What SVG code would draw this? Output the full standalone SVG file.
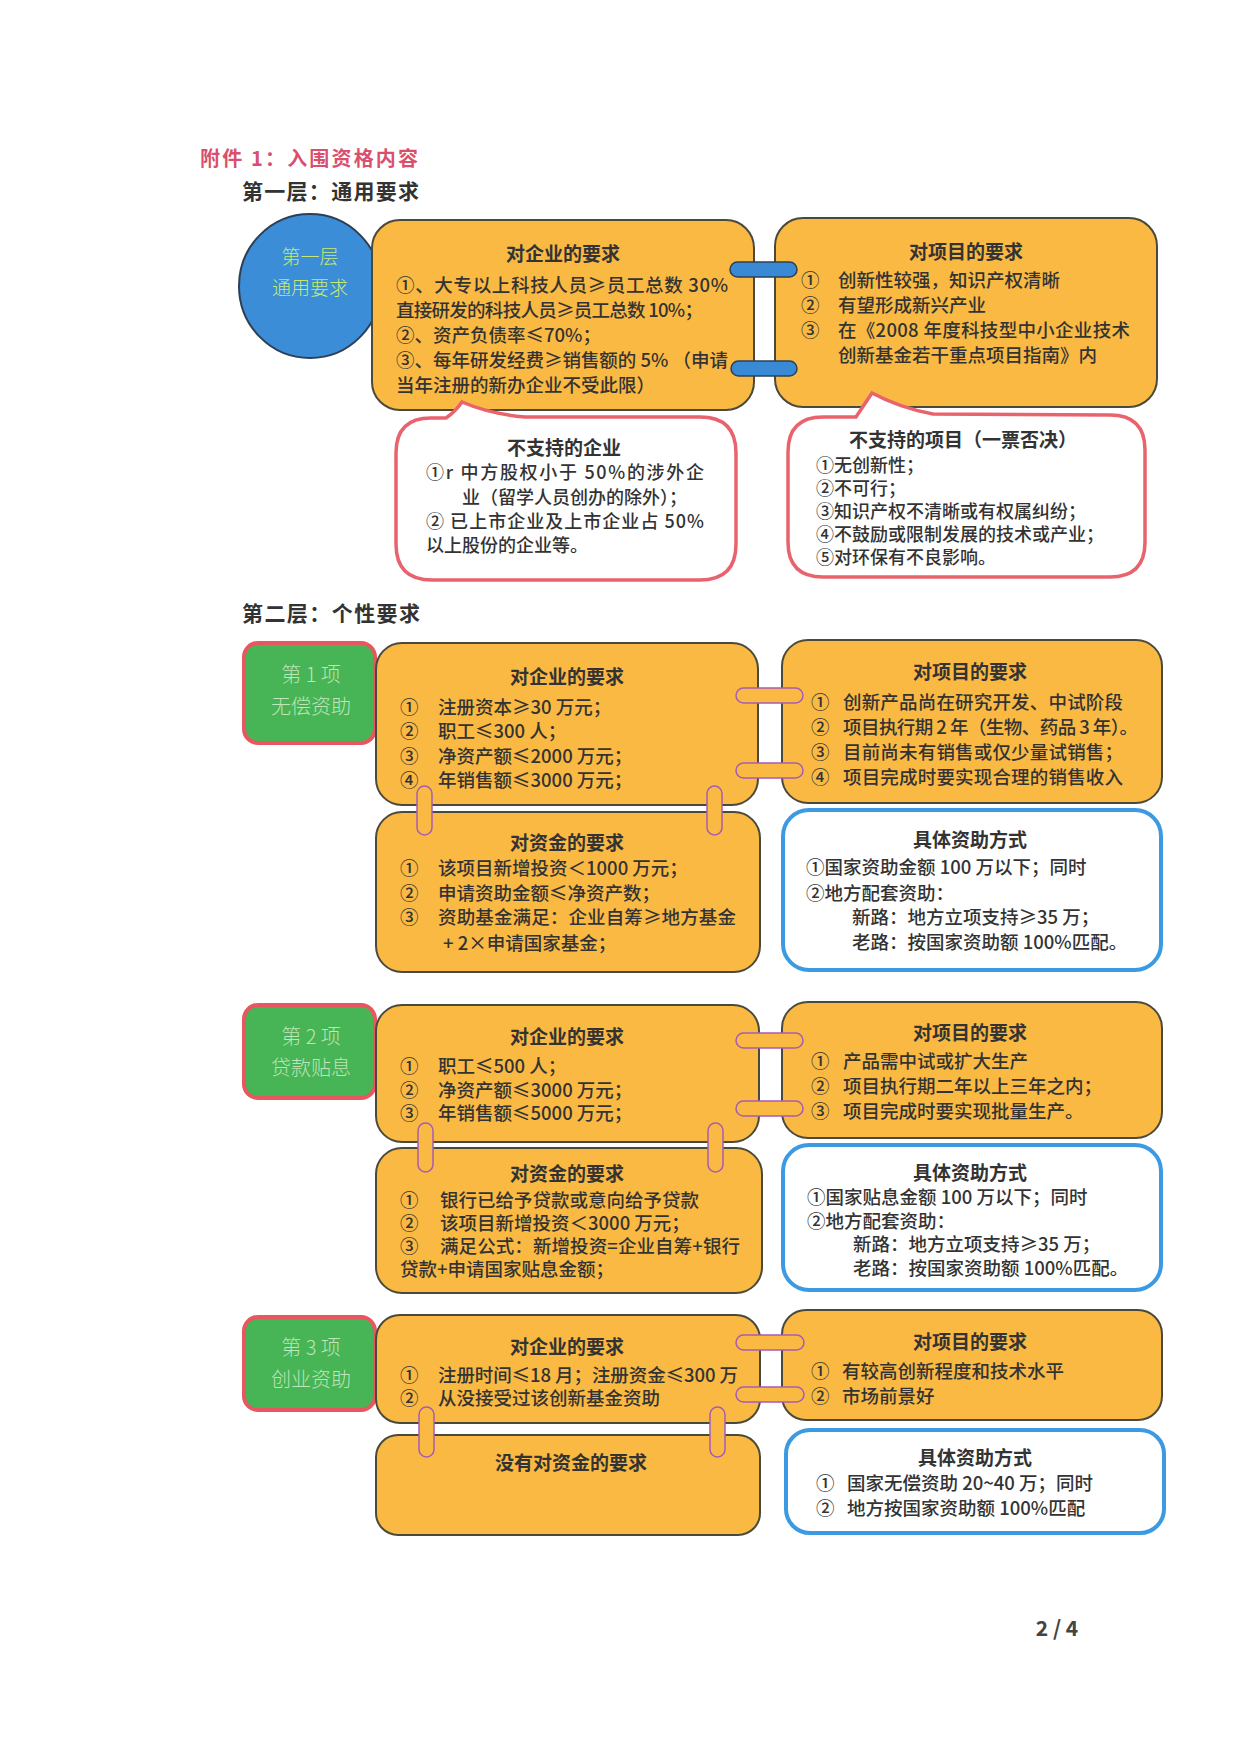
<svg xmlns="http://www.w3.org/2000/svg" width="1254" height="1740" viewBox="0 0 1254 1740">
<style>
text{font-family:"Noto Sans CJK SC","Liberation Sans",sans-serif;fill:#333}
.t{font-size:19px;font-weight:bold;text-anchor:middle}
.b{font-size:18.5px;font-weight:500}
.c{font-size:18px;font-weight:500}
.h{font-size:21px;font-weight:bold}
.orange{fill:#FAB943;stroke:#4a4a3c;stroke-width:2}
.blue{fill:#fff;stroke:#3b9ae1;stroke-width:4}
.green{fill:#47b455;stroke:#e8565f;stroke-width:4}
.gt{font-size:20px;fill:#bfe5b8;text-anchor:middle;font-weight:300}
.callout{fill:#fff;stroke:#e8636d;stroke-width:3.5}
.pb{fill:#3a89d5;stroke:#2d4056;stroke-width:1.5}
.po{fill:#FAB943;stroke:#a65cb5;stroke-width:1.5}
</style>
<rect width="1254" height="1740" fill="#fff"/>
<g id="headings">
<text x="200" y="166" class="h" style="fill:#d94f6c;font-size:20px" textLength="218">附件 1：入围资格内容</text>
<text x="242" y="199" class="h" textLength="177">第一层：通用要求</text>
<text x="242" y="621" class="h" textLength="178">第二层：个性要求</text>
<text x="1057" y="1636" style="font-size:21px;font-weight:bold;text-anchor:middle;fill:#444">2 / 4</text>
</g>

<g id="layer1-circle">
<ellipse cx="310" cy="286" rx="71" ry="72" fill="#3b8dd7" stroke="#2d3f55" stroke-width="2"/>
<text x="310" y="264" style="font-size:19px;fill:#c4ea72;text-anchor:middle;font-weight:300">第一层</text>
<text x="310" y="295" style="font-size:19px;fill:#c4ea72;text-anchor:middle;font-weight:300">通用要求</text>
</g>

<g id="layer1-enterprise">
<rect class="orange" x="372" y="220" width="382" height="190" rx="28"/>
<text class="t" x="563" y="261">对企业的要求</text>
<text class="b" x="396" y="292" textLength="332">①、大专以上科技人员≥员工总数 30%</text>
<text class="b" x="396" y="317" textLength="307">直接研发的科技人员≥员工总数 10%；</text>
<text class="b" x="396" y="342">②、资产负债率≤70%；</text>
<text class="b" x="396" y="367" textLength="332">③、每年研发经费≥销售额的 5%  （申请</text>
<text class="b" x="396" y="392">当年注册的新办企业不受此限）</text>
</g>

<g id="layer1-project">
<rect class="orange" x="775" y="218" width="382" height="189" rx="28"/>
<text class="t" x="966" y="259">对项目的要求</text>
<text class="b" x="801" y="287">①</text>
<text class="b" x="838" y="287">创新性较强，知识产权清晰</text>
<text class="b" x="801" y="312">②</text>
<text class="b" x="838" y="312">有望形成新兴产业</text>
<text class="b" x="801" y="337">③</text>
<text class="b" x="838" y="337" textLength="292">在《2008 年度科技型中小企业技术</text>
<text class="b" x="838" y="362">创新基金若干重点项目指南》内</text>
</g>

<g id="layer1-unsupported-enterprise">
<path class="callout" d="M431,418 L446,418 Q455,412 462,402 Q490,414 525,417 L700,417 Q736,417 736,453 L736,544 Q736,580 700,580 L432,580 Q396,580 396,544 L396,453 Q396,418 431,418 Z"/>
<text class="t" x="564" y="455">不支持的企业</text>
<text class="c" x="426" y="479" textLength="278">①r 中方股权小于 50%的涉外企</text>
<text class="c" x="462" y="504">业（留学人员创办的除外）；</text>
<text class="c" x="426" y="528" textLength="278">② 已上市企业及上市企业占 50%</text>
<text class="c" x="426" y="552">以上股份的企业等。</text>
</g>

<g id="layer1-unsupported-project">
<path class="callout" d="M823,417 L856,417 Q864,405 872,393 Q900,408 933,414 L1110,415 Q1145,415 1145,450 L1145,542 Q1145,577 1110,577 L823,577 Q788,577 788,542 L788,452 Q788,417 823,417 Z"/>
<text class="t" x="963" y="447">不支持的项目（一票否决）</text>
<text class="c" x="816" y="472">①无创新性；</text>
<text class="c" x="816" y="495">②不可行；</text>
<text class="c" x="816" y="518">③知识产权不清晰或有权属纠纷；</text>
<text class="c" x="816" y="541">④不鼓励或限制发展的技术或产业；</text>
<text class="c" x="816" y="564">⑤对环保有不良影响。</text>
</g>

<!-- Item 1 -->
<g id="item1-label">
<rect class="green" x="244" y="643" width="131" height="100" rx="14"/>
<text class="gt" x="311" y="682">第 1 项</text>
<text class="gt" x="311" y="714">无偿资助</text>
</g>
<g id="item1-enterprise">
<rect class="orange" x="376" y="643" width="382" height="162" rx="26"/>
<text class="t" x="567" y="684">对企业的要求</text>
<text class="b" x="400" y="714">①</text><text class="b" x="438" y="714">注册资本≥30 万元；</text>
<text class="b" x="400" y="738">②</text><text class="b" x="438" y="738">职工≤300 人；</text>
<text class="b" x="400" y="763">③</text><text class="b" x="438" y="763">净资产额≤2000 万元；</text>
<text class="b" x="400" y="787">④</text><text class="b" x="438" y="787">年销售额≤3000 万元；</text>
</g>
<g id="item1-funds">
<rect class="orange" x="376" y="812" width="384" height="160" rx="26"/>
<text class="t" x="567" y="850">对资金的要求</text>
<text class="b" x="400" y="875">①</text><text class="b" x="438" y="875">该项目新增投资＜1000 万元；</text>
<text class="b" x="400" y="900">②</text><text class="b" x="438" y="900">申请资助金额≤净资产数；</text>
<text class="b" x="400" y="924">③</text><text class="b" x="438" y="924" textLength="298">资助基金满足：企业自筹≥地方基金</text>
<text class="b" x="443" y="950">+ 2×申请国家基金；</text>
</g>
<g id="item1-project">
<rect class="orange" x="782" y="640" width="380" height="163" rx="26"/>
<text class="t" x="970" y="679">对项目的要求</text>
<text class="b" x="811" y="709">①</text><text class="b" x="843" y="709" textLength="280">创新产品尚在研究开发、中试阶段</text>
<text class="b" x="811" y="734">②</text><text class="b" x="843" y="734" textLength="295">项目执行期 2 年（生物、药品 3 年）。</text>
<text class="b" x="811" y="759">③</text><text class="b" x="843" y="759" textLength="280">目前尚未有销售或仅少量试销售；</text>
<text class="b" x="811" y="784">④</text><text class="b" x="843" y="784" textLength="280">项目完成时要实现合理的销售收入</text>
</g>
<g id="item1-funding">
<rect class="blue" x="783" y="810" width="378" height="160" rx="26"/>
<text class="t" x="970" y="847">具体资助方式</text>
<text class="b" x="806" y="874">①国家资助金额 100 万以下；同时</text>
<text class="b" x="806" y="900">②地方配套资助：</text>
<text class="b" x="852" y="924">新路：地方立项支持≥35 万；</text>
<text class="b" x="852" y="949">老路：按国家资助额 100%匹配。</text>
</g>

<!-- Item 2 -->
<g id="item2-label">
<rect class="green" x="244" y="1005" width="131" height="93" rx="14"/>
<text class="gt" x="311" y="1044">第 2 项</text>
<text class="gt" x="311" y="1075">贷款贴息</text>
</g>
<g id="item2-enterprise">
<rect class="orange" x="376" y="1005" width="383" height="137" rx="26"/>
<text class="t" x="567" y="1044">对企业的要求</text>
<text class="b" x="400" y="1073">①</text><text class="b" x="438" y="1073">职工≤500 人；</text>
<text class="b" x="400" y="1097">②</text><text class="b" x="438" y="1097">净资产额≤3000 万元；</text>
<text class="b" x="400" y="1120">③</text><text class="b" x="438" y="1120">年销售额≤5000 万元；</text>
</g>
<g id="item2-funds">
<rect class="orange" x="376" y="1148" width="386" height="145" rx="26"/>
<text class="t" x="567" y="1181">对资金的要求</text>
<text class="b" x="400" y="1207">①</text><text class="b" x="440" y="1207">银行已给予贷款或意向给予贷款</text>
<text class="b" x="400" y="1230">②</text><text class="b" x="440" y="1230">该项目新增投资＜3000 万元；</text>
<text class="b" x="400" y="1253">③</text><text class="b" x="440" y="1253" textLength="300">满足公式：新增投资=企业自筹+银行</text>
<text class="b" x="400" y="1276">贷款+申请国家贴息金额；</text>
</g>
<g id="item2-project">
<rect class="orange" x="782" y="1002" width="380" height="136" rx="26"/>
<text class="t" x="970" y="1040">对项目的要求</text>
<text class="b" x="811" y="1068">①</text><text class="b" x="843" y="1068">产品需中试或扩大生产</text>
<text class="b" x="811" y="1093">②</text><text class="b" x="843" y="1093">项目执行期二年以上三年之内；</text>
<text class="b" x="811" y="1118">③</text><text class="b" x="843" y="1118">项目完成时要实现批量生产。</text>
</g>
<g id="item2-funding">
<rect class="blue" x="783" y="1145" width="378" height="145" rx="26"/>
<text class="t" x="970" y="1180">具体资助方式</text>
<text class="b" x="807" y="1204">①国家贴息金额 100 万以下；同时</text>
<text class="b" x="807" y="1228">②地方配套资助：</text>
<text class="b" x="853" y="1251">新路：地方立项支持≥35 万；</text>
<text class="b" x="853" y="1275">老路：按国家资助额 100%匹配。</text>
</g>

<!-- Item 3 -->
<g id="item3-label">
<rect class="green" x="244" y="1317" width="131" height="93" rx="14"/>
<text class="gt" x="311" y="1355">第 3 项</text>
<text class="gt" x="311" y="1387">创业资助</text>
</g>
<g id="item3-enterprise">
<rect class="orange" x="376" y="1315" width="384" height="108" rx="24"/>
<text class="t" x="567" y="1354">对企业的要求</text>
<text class="b" x="400" y="1382">①</text><text class="b" x="438" y="1382" textLength="300">注册时间≤18 月；注册资金≤300 万</text>
<text class="b" x="400" y="1405">②</text><text class="b" x="438" y="1405">从没接受过该创新基金资助</text>
</g>
<g id="item3-funds">
<rect class="orange" x="376" y="1435" width="384" height="100" rx="22"/>
<text class="t" x="571" y="1470">没有对资金的要求</text>
</g>
<g id="item3-project">
<rect class="orange" x="782" y="1310" width="380" height="110" rx="24"/>
<text class="t" x="970" y="1349">对项目的要求</text>
<text class="b" x="811" y="1378">①</text><text class="b" x="842" y="1378">有较高创新程度和技术水平</text>
<text class="b" x="811" y="1403">②</text><text class="b" x="842" y="1403">市场前景好</text>
</g>
<g id="item3-funding">
<rect class="blue" x="786" y="1430" width="378" height="103" rx="24"/>
<text class="t" x="975" y="1465">具体资助方式</text>
<text class="b" x="816" y="1490">①</text><text class="b" x="847" y="1490">国家无偿资助 20~40 万；同时</text>
<text class="b" x="816" y="1515">②</text><text class="b" x="847" y="1515">地方按国家资助额 100%匹配</text>
</g>

<g id="connectors">
<rect class="pb" x="730" y="262" width="67" height="15" rx="7.5"/>
<rect class="pb" x="731" y="361" width="66" height="15" rx="7.5"/>
<rect class="po" x="736" y="688" width="67" height="15" rx="7.5"/>
<rect class="po" x="736" y="763" width="67" height="15" rx="7.5"/>
<rect class="po" x="417" y="786" width="15" height="49" rx="7.5"/>
<rect class="po" x="707" y="786" width="15" height="49" rx="7.5"/>
<rect class="po" x="736" y="1033" width="67" height="15" rx="7.5"/>
<rect class="po" x="736" y="1101" width="67" height="15" rx="7.5"/>
<rect class="po" x="418" y="1123" width="15" height="49" rx="7.5"/>
<rect class="po" x="708" y="1123" width="15" height="49" rx="7.5"/>
<rect class="po" x="736" y="1335" width="68" height="15" rx="7.5"/>
<rect class="po" x="736" y="1387" width="68" height="15" rx="7.5"/>
<rect class="po" x="419" y="1407" width="15" height="50" rx="7.5"/>
<rect class="po" x="710" y="1407" width="15" height="50" rx="7.5"/>
</g>
</svg>
